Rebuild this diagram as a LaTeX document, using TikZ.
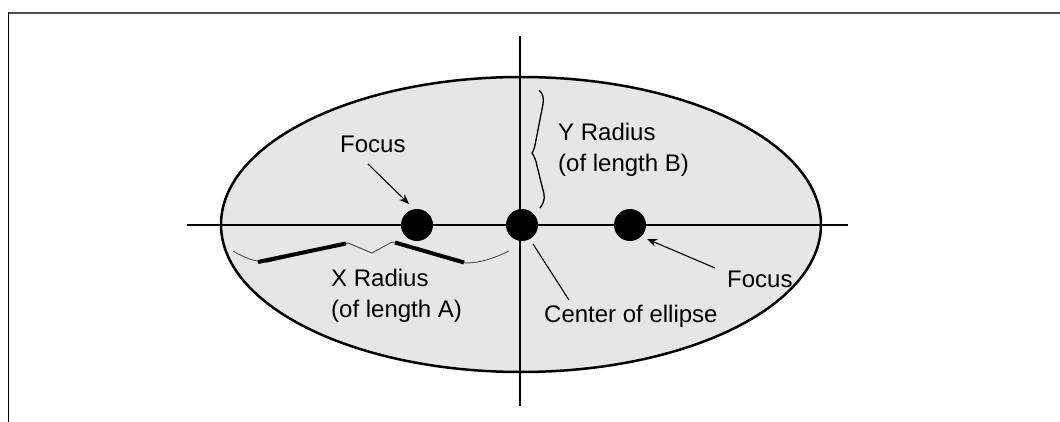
\documentclass[tikz,border=0pt]{standalone}
\usepackage{fontspec}
\setmainfont{Liberation Sans}
\usetikzlibrary{arrows.meta}
\definecolor{fillgray}{HTML}{E6E6E6}
\definecolor{framegray}{HTML}{505050}
\begin{document}
\begin{tikzpicture}[x=1pt,y=-1pt,
  lbl/.style={font=\fontsize{24}{31}\selectfont, inner sep=0pt, anchor=base west, align=left},
  dot/.style={circle, fill=black, inner sep=0pt, minimum size=32pt},
  axis/.style={line width=2pt},
  pointer/.style={line width=1.1pt},
  arr/.style={pointer, -{Stealth[length=10pt,width=8pt]}},
  thinbrace/.style={line width=0.9pt, black!70},
  thickbrace/.style={line width=4pt, line cap=butt}]
\useasboundingbox (0,0) rectangle (1060,422);
% frame
\draw[line width=1.6pt, framegray] (8,13) -- (1060,13);
\draw[line width=1.6pt, black] (8.5,12.2) -- (8.5,422);
% ellipse
\draw[line width=2.5pt, fill=fillgray] (521,224.5) ellipse [x radius=300, y radius=147.5];
% axes
\coordinate (hl) at (187,225);
\coordinate (hr) at (848,225);
\coordinate (vt) at (520,36);
\coordinate (vb) at (520,406);
\draw[axis] (hl) -- (hr);
\draw[axis] (vt) -- (vb);
% dots
\node[dot] (f1) at (417,225) {};
\node[dot] (c) at (522,225) {};
\node[dot] (f2) at (630,225) {};
% labels
\node[lbl] (lf1) at (340,153) {Focus};
\node[lbl] (lf2) at (727,287) {Focus};
\node[lbl] (lc) at (544,322) {Center of ellipse};
\node[lbl] (lx) at (331,317) {X Radius\\(of length A)};
\node[lbl] (ly) at (558,172) {Y Radius\\(of length B)};
% pointers
\coordinate (a1s) at (368,164);
\coordinate (a1e) at (409,204);
\coordinate (a2s) at (715,268);
\coordinate (a2e) at (647,239);
\coordinate (cs) at (569,300);
\coordinate (ce) at (533,244);
\draw[arr] (a1s) -- (a1e);
\draw[arr] (a2s) -- (a2e);
\draw[pointer] (cs) -- (ce);
% Y radius brace
\draw[line width=1.3pt] (539,90) .. controls (543,94) and (544,98) .. (543,104)
  -- (536,140) .. controls (535,146) and (534,150) .. (532,153)
  .. controls (534,156) and (536,160) .. (537,166)
  -- (544,194) .. controls (545,200) and (543,204) .. (540,208);
% X radius brace
\draw[thinbrace] (233,251) .. controls (245,258) and (255,262) .. (268,262)
  -- (348,243) -- (372,253) -- (392,242) -- (466,263)
  .. controls (480,263) and (495,258) .. (509,251);
\draw[thickbrace] (258,262) -- (346,243.5);
\draw[thickbrace] (395,242.5) -- (464,262.5);
\end{tikzpicture}
\end{document}
